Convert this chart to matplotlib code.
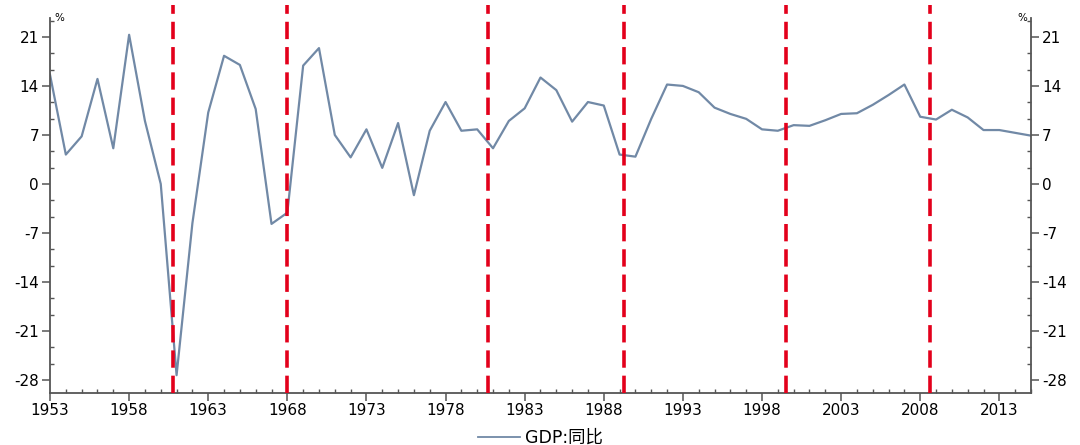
import matplotlib
matplotlib.use("Agg")
import matplotlib.pyplot as plt
from matplotlib.ticker import MultipleLocator, FixedLocator

plt.rcParams['font.family'] = ['DejaVu Sans', 'Noto Sans CJK SC']
plt.rcParams['axes.unicode_minus'] = False

years = list(range(1953, 2016))
gdp_yoy = [15.6, 4.2, 6.8, 15.0, 5.1, 21.3, 9.0, 0.0, -27.3, -5.6,
           10.2, 18.3, 17.0, 10.7, -5.7, -4.1, 16.9, 19.4, 7.0, 3.8,
           7.8, 2.3, 8.7, -1.6, 7.6, 11.7, 7.6, 7.8, 5.1, 9.0,
           10.8, 15.2, 13.4, 8.9, 11.7, 11.2, 4.2, 3.9, 9.3, 14.2,
           14.0, 13.1, 10.9, 10.0, 9.3, 7.8, 7.6, 8.4, 8.3, 9.1,
           10.0, 10.1, 11.3, 12.7, 14.2, 9.6, 9.2, 10.6, 9.5, 7.7,
           7.7, 7.3, 6.9]
marker_years = [1960.8, 1968.0, 1980.7, 1989.3, 1999.5, 2008.6]
xtick_years = list(range(1953, 2016, 5))
ytick_vals = [-28, -21, -14, -7, 0, 7, 14, 21]
series_label = "GDP:同比"

fig = plt.figure(figsize=(10.8, 4.45), dpi=100)
ax = fig.add_axes([0.0463, 0.1175, 0.9083, 0.8421])

line_color = '#7189a6'
ax.plot(years, gdp_yoy, color=line_color, lw=1.6, label=series_label)

for xv in marker_years:
    ax.axvline(xv, ymin=0, ymax=1.035, color='#e3001b', lw=2.6,
               linestyle=(0, (4.8, 2.2)), clip_on=False, zorder=3)

ax.set_xlim(1953, 2015)
ax.set_ylim(-29.8, 23.7)

ax.xaxis.set_major_locator(FixedLocator(xtick_years))
ax.xaxis.set_minor_locator(MultipleLocator(1))
ax.yaxis.set_major_locator(FixedLocator(ytick_vals))
ax.yaxis.set_minor_locator(MultipleLocator(7/3))

spine_color = '#555555'
ax.spines['top'].set_visible(False)
for s in ['left', 'right', 'bottom']:
    ax.spines[s].set_color(spine_color)
    ax.spines[s].set_linewidth(1.3)

ax.tick_params(axis='both', which='major', direction='out', length=6,
               width=1.1, color=spine_color, labelsize=11, labelcolor='black')
ax.tick_params(axis='both', which='minor', direction='in', length=3,
               width=1.0, color=spine_color)
ax.tick_params(axis='y', which='both', left=True, right=True,
               labelleft=True, labelright=True, pad=2)
ax.tick_params(axis='x', which='major', pad=1.5)

ax.text(0.004, 1.0, '%', transform=ax.transAxes, fontsize=7.5,
        ha='left', va='center')
ax.text(0.996, 1.0, '%', transform=ax.transAxes, fontsize=7.5,
        ha='right', va='center')

leg = ax.legend(loc='center', bbox_to_anchor=(0.5, -0.12),
                frameon=False, fontsize=12.5, handlelength=2.4,
                handletextpad=0.3, borderpad=0.1)
for h in leg.get_lines():
    h.set_linewidth(1.3)

fig.savefig('out.png', dpi=100)
